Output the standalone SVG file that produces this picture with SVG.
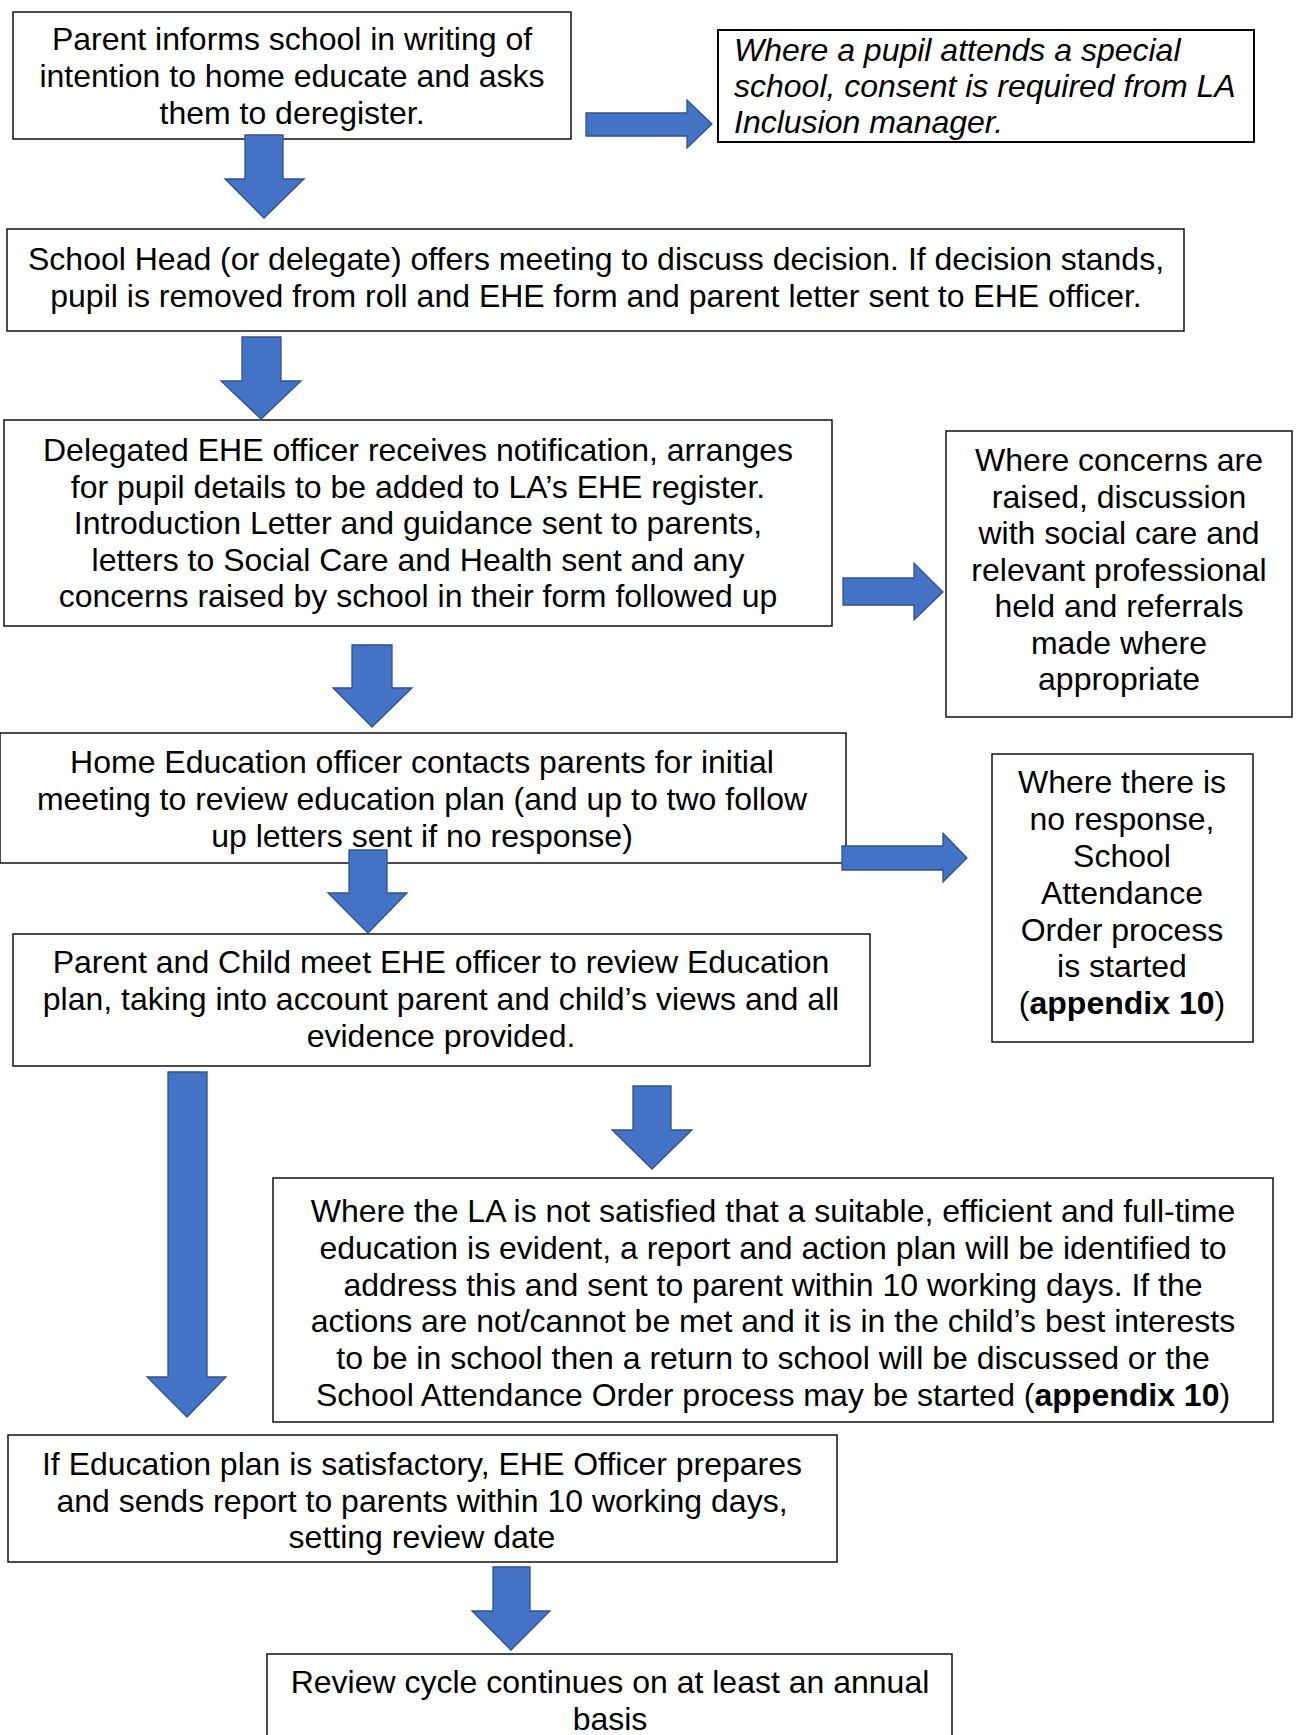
<svg xmlns="http://www.w3.org/2000/svg" width="1296" height="1735" viewBox="0 0 1296 1735">
<style>
.box{fill:#ffffff;stroke:#000000;stroke-width:1.4}
.t{font-family:"Liberation Sans",Arial,sans-serif;font-size:32px;fill:#000000;text-anchor:middle}
.it{font-family:"Liberation Sans",Arial,sans-serif;font-size:32px;fill:#000000;font-style:italic}
.arr{fill:#4472C4;stroke:#2F528F;stroke-width:1.3;stroke-linejoin:miter}
b{font-weight:bold}
</style>
<rect width="1296" height="1735" fill="#ffffff"/>
<g id="n1">
<rect class="box" x="13" y="12" width="558" height="127"/>
<text class="t"><tspan x="292" y="49.5">Parent informs school in writing of</tspan><tspan x="292" y="86.5">intention to home educate and asks</tspan><tspan x="292" y="123.5">them to deregister.</tspan></text>
</g>
<g id="n2">
<rect class="box" x="718" y="30" width="536" height="112" style="stroke-width:2"/>
<text class="it"><tspan x="734" y="61">Where a pupil attends a special</tspan><tspan x="734" y="97">school, consent is required from LA</tspan><tspan x="734" y="133">Inclusion manager.</tspan></text>
</g>
<g id="n3">
<rect class="box" x="7" y="229" width="1177" height="102"/>
<text class="t"><tspan x="596" y="270">School Head (or delegate) offers meeting to discuss decision. If decision stands,</tspan><tspan x="596" y="306.5">pupil is removed from roll and EHE form and parent letter sent to EHE officer.</tspan></text>
</g>
<g id="n4">
<rect class="box" x="4" y="420" width="828" height="206"/>
<text class="t"><tspan x="418" y="461">Delegated EHE officer receives notification, arranges</tspan><tspan x="418" y="497.5">for pupil details to be added to LA’s EHE register.</tspan><tspan x="418" y="534">Introduction Letter and guidance sent to parents,</tspan><tspan x="418" y="570.5">letters to Social Care and Health sent and any</tspan><tspan x="418" y="607">concerns raised by school in their form followed up</tspan></text>
</g>
<g id="n5">
<rect class="box" x="946" y="431" width="346" height="286"/>
<text class="t"><tspan x="1119" y="471">Where concerns are</tspan><tspan x="1119" y="507.5">raised, discussion</tspan><tspan x="1119" y="544">with social care and</tspan><tspan x="1119" y="580.5">relevant professional</tspan><tspan x="1119" y="617">held and referrals</tspan><tspan x="1119" y="653.5">made where</tspan><tspan x="1119" y="690">appropriate</tspan></text>
</g>
<g id="n6">
<rect class="box" x="0" y="733" width="846" height="130"/>
<text class="t"><tspan x="422" y="773">Home Education officer contacts parents for initial</tspan><tspan x="422" y="810">meeting to review education plan (and up to two follow</tspan><tspan x="422" y="847">up letters sent if no response)</tspan></text>
</g>
<g id="n7">
<rect class="box" x="992" y="754" width="261" height="288"/>
<text class="t"><tspan x="1122" y="793">Where there is</tspan><tspan x="1122" y="830">no response,</tspan><tspan x="1122" y="867">School</tspan><tspan x="1122" y="904">Attendance</tspan><tspan x="1122" y="941">Order process</tspan><tspan x="1122" y="977">is started</tspan><tspan x="1122" y="1014">(<tspan font-weight="bold">appendix 10</tspan>)</tspan></text>
</g>
<g id="n8">
<rect class="box" x="13" y="934" width="857" height="132"/>
<text class="t"><tspan x="441" y="973">Parent and Child meet EHE officer to review Education</tspan><tspan x="441" y="1010">plan, taking into account parent and child’s views and all</tspan><tspan x="441" y="1047">evidence provided.</tspan></text>
</g>
<g id="n9">
<rect class="box" x="273" y="1178" width="1000" height="244"/>
<text class="t"><tspan x="773" y="1222">Where the LA is not satisfied that a suitable, efficient and full-time</tspan><tspan x="773" y="1259">education is evident, a report and action plan will be identified to</tspan><tspan x="773" y="1295.5">address this and sent to parent within 10 working days. If the</tspan><tspan x="773" y="1332">actions are not/cannot be met and it is in the child’s best interests</tspan><tspan x="773" y="1369">to be in school then a return to school will be discussed or the</tspan><tspan x="773" y="1406">School Attendance Order process may be started (<tspan font-weight="bold">appendix 10</tspan>)</tspan></text>
</g>
<g id="n10">
<rect class="box" x="8" y="1435" width="829" height="127"/>
<text class="t"><tspan x="422" y="1475">If Education plan is satisfactory, EHE Officer prepares</tspan><tspan x="422" y="1512">and sends report to parents within 10 working days,</tspan><tspan x="422" y="1548">setting review date</tspan></text>
</g>
<g id="n11">
<rect class="box" x="267" y="1654" width="685" height="110"/>
<text class="t"><tspan x="610" y="1693">Review cycle continues on at least an annual</tspan><tspan x="610" y="1730">basis</tspan></text>
</g>
<g id="connectors">
<polygon class="arr" points="245,135 283,135 283,179 304,179 264,218 225,179 245,179"/>
<polygon class="arr" points="586,113 687,113 687,100 712,124 687,148 687,136 586,136"/>
<polygon class="arr" points="242,337 281,337 281,381 301,381 261,419 221,381 242,381"/>
<polygon class="arr" points="843,578 914,578 914,563 943,592 914,620 914,605 843,605"/>
<polygon class="arr" points="352,645 392,645 392,688 412,688 372,727 333,688 352,688"/>
<polygon class="arr" points="842,846 943,846 943,833 967,858 943,882 943,870 842,870"/>
<polygon class="arr" points="349,850 387,850 387,893 407,893 368,933 328,893 349,893"/>
<polygon class="arr" points="168,1072 207,1072 207,1377 226,1377 187,1417 147,1377 168,1377"/>
<polygon class="arr" points="633,1086 671,1086 671,1130 692,1130 652,1169 612,1130 633,1130"/>
<polygon class="arr" points="493,1567 530,1567 530,1611 550,1611 511,1650 472,1611 493,1611"/>
</g>
</svg>
